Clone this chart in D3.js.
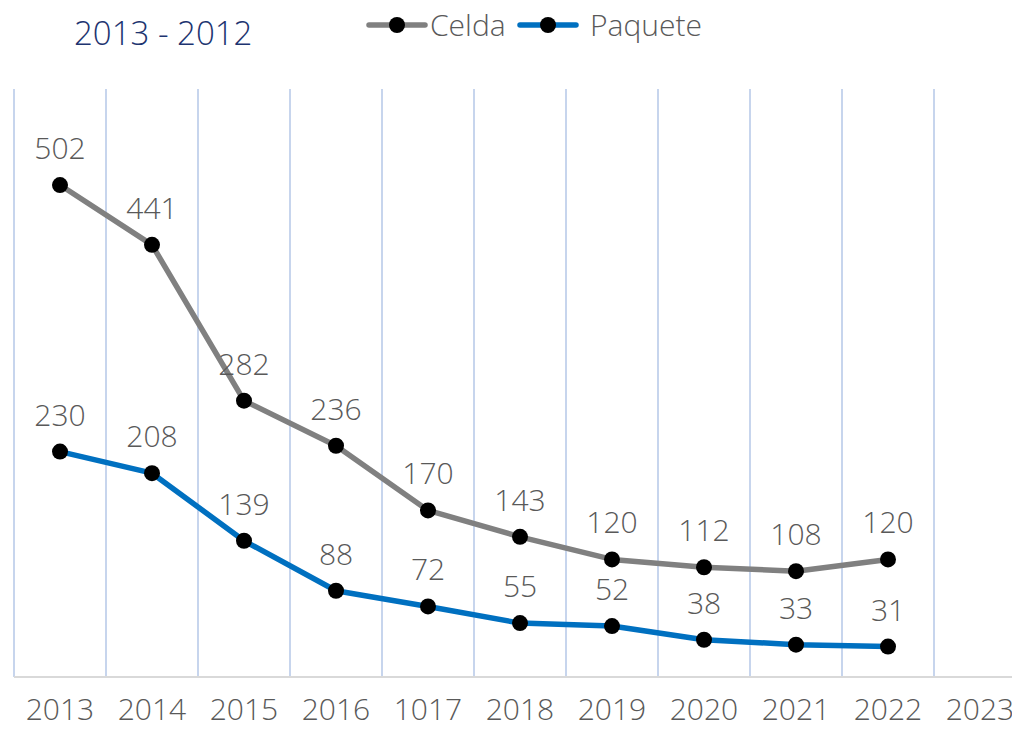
<!DOCTYPE html>
<html>
<head>
<meta charset="utf-8">
<script src="https://cdn.jsdelivr.net/npm/d3@7"></script>
<style>
  body { margin: 0; background: #fff; }
  svg text { font-family: "Open Sans", "Lato", sans-serif; font-weight: 300; }
</style>
</head>
<body>
<div id="chart"></div>
<script>
// datos
const years = ["2013", "2014", "2015", "2016", "1017", "2018", "2019", "2020", "2021", "2022", "2023"];
const celda = [502, 441, 282, 236, 170, 143, 120, 112, 108, 120];
const paquete = [230, 208, 139, 88, 72, 55, 52, 38, 33, 31];
const seriesNames = ["Celda", "Paquete"];
const seriesColors = ["#808080", "#0070c0"];

const width = 1012;
const height = 729;

const svg = d3.select("#chart")
    .append("svg")
    .attr("width", width)
    .attr("height", height);

const x = d3.scaleBand()
    .domain(years)
    .range([14, 14 + 92 * years.length])
    .padding(0);

const y = d3.scaleLinear()
    .domain([0, 600])
    .range([677, 89]);

// lineas verticales de la cuadricula
svg.append("g")
    .selectAll("line")
    .data(years)
    .join("line")
    .attr("x1", d => x(d))
    .attr("x2", d => x(d))
    .attr("y1", y(600))
    .attr("y2", y(0))
    .attr("stroke", "#b4c7e7")
    .attr("stroke-width", 1.5);

// linea base
svg.append("line")
    .attr("x1", 14)
    .attr("x2", width)
    .attr("y1", y(0))
    .attr("y2", y(0))
    .attr("stroke", "#d9d9d9")
    .attr("stroke-width", 2);

// etiquetas del eje x
svg.append("g")
    .selectAll("text")
    .data(years)
    .join("text")
    .attr("x", d => x(d) + x.bandwidth() / 2)
    .attr("y", 720)
    .attr("text-anchor", "middle")
    .attr("font-size", 30)
    .attr("fill", "#595959")
    .text(d => d);

const line = d3.line()
    .x((d, i) => x(years[i]) + x.bandwidth() / 2)
    .y(d => y(d));

[celda, paquete].forEach((vals, s) => {
    svg.append("path")
        .datum(vals)
        .attr("d", line)
        .attr("fill", "none")
        .attr("stroke", seriesColors[s])
        .attr("stroke-width", 5.5)
        .attr("stroke-linejoin", "round");

    svg.append("g")
        .selectAll("circle")
        .data(vals)
        .join("circle")
        .attr("cx", (d, i) => x(years[i]) + x.bandwidth() / 2)
        .attr("cy", d => y(d))
        .attr("r", 8)
        .attr("fill", "#000");

    svg.append("g")
        .selectAll("text")
        .data(vals)
        .join("text")
        .attr("x", (d, i) => x(years[i]) + x.bandwidth() / 2)
        .attr("y", d => y(d) - 26)
        .attr("text-anchor", "middle")
        .attr("font-size", 30)
        .attr("fill", "#595959")
        .text(d => d);
});

// titulo
svg.append("text")
    .attr("x", 74)
    .attr("y", 45)
    .attr("font-size", 33)
    .attr("font-weight", 400)
    .attr("fill", "#1d3470")
    .text("2013 - 2012");

// leyenda
const legendX = [369, 520];
const legendTextX = [61, 70];
seriesNames.forEach((name, s) => {
    const g = svg.append("g").attr("transform", `translate(${legendX[s]},25)`);
    g.append("line")
        .attr("x1", 0).attr("x2", 56)
        .attr("y1", 0).attr("y2", 0)
        .attr("stroke", seriesColors[s])
        .attr("stroke-width", 5.5)
        .attr("stroke-linecap", "round");
    g.append("circle")
        .attr("cx", 28).attr("cy", 0).attr("r", 8)
        .attr("fill", "#000");
    g.append("text")
        .attr("x", legendTextX[s])
        .attr("y", 11)
        .attr("font-size", 30)
        .attr("fill", "#595959")
        .text(name);
});
</script>
</body>
</html>
